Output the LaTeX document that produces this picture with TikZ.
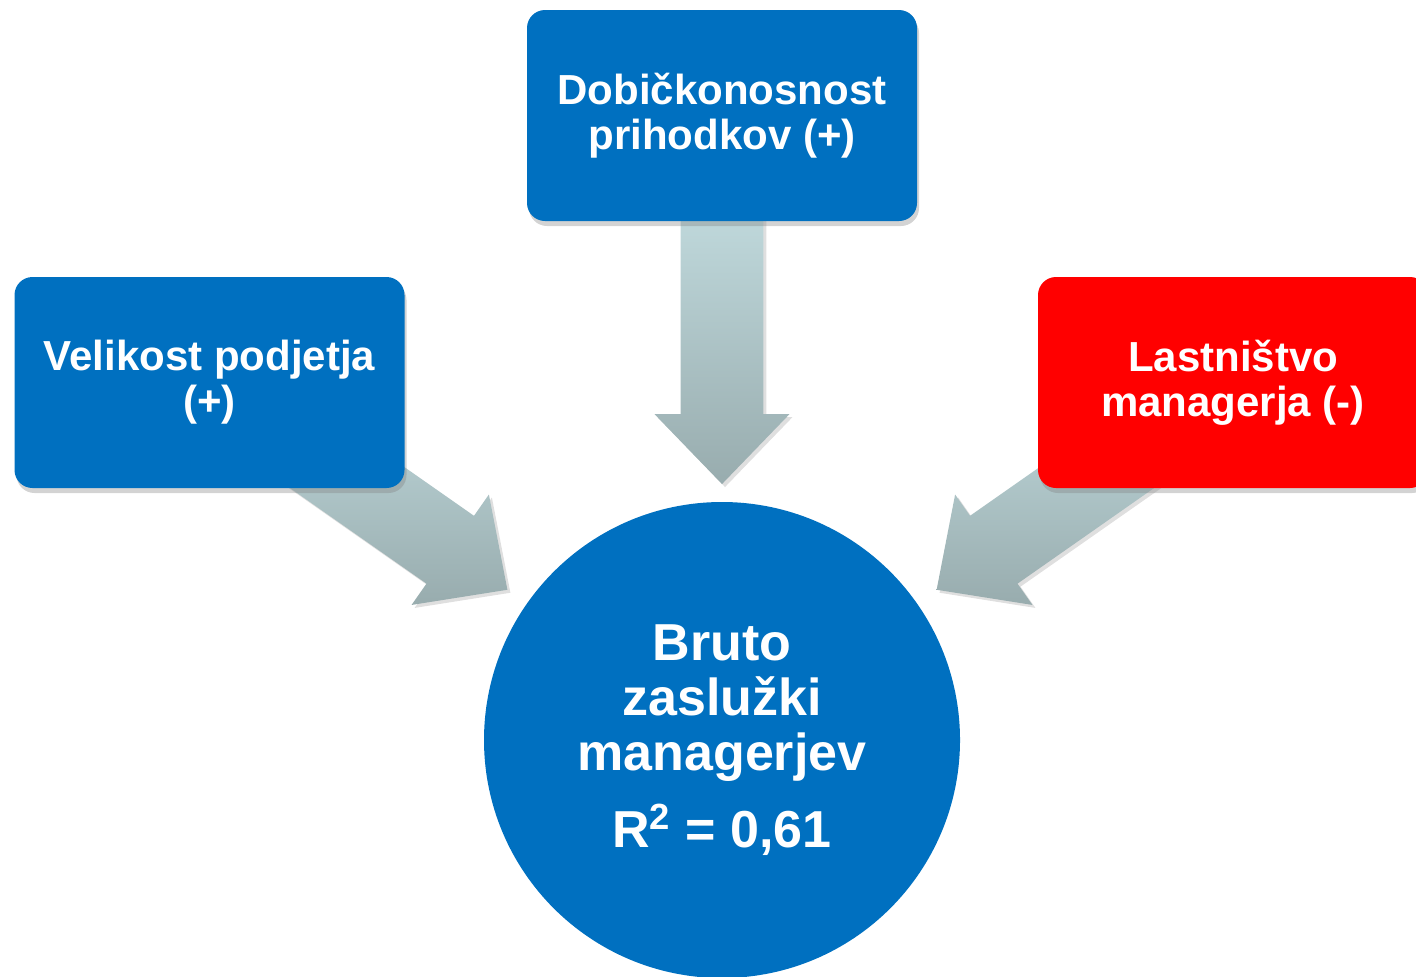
\documentclass[tikz,border=0pt]{standalone}
\usepackage{fontspec}
\setmainfont{Liberation Sans}
\usetikzlibrary{positioning,calc,shapes.arrows,shadows}
\definecolor{boxblue}{HTML}{0070C0}
\definecolor{boxred}{HTML}{FF0000}
\definecolor{arrlight}{HTML}{BFD8DB}
\definecolor{arrdark}{HTML}{98ACAE}

\begin{document}
\begin{tikzpicture}[x=0.5pt,y=-0.5pt,
box/.style={rectangle,rounded corners=9pt,fill=boxblue,text=white,
    minimum width=195pt,minimum height=105.5pt,align=center,
    font=\bfseries\fontsize{21}{22.5}\selectfont,
    drop shadow={shadow xshift=1pt,shadow yshift=-2.5pt,opacity=0.35}},
fat/.style={single arrow,anchor=tip,top color=arrlight,bottom color=arrdark,
    minimum height=#1,minimum width=67pt,single arrow head extend=13pt,
    single arrow tip angle=88,inner xsep=0pt,inner ysep=20.5pt,
    drop shadow={shadow xshift=1.5pt,shadow yshift=-1.5pt,opacity=0.25}}]
\useasboundingbox (0,0) rectangle (1416,976);

\node (bruto) [circle,fill=boxblue,text=white,minimum size=238pt,inner sep=0pt,
    align=center,font=\bfseries\fontsize{26}{27.5}\selectfont]
    at (722,740) {Bruto\\zaslužki\\managerjev\\[11pt]R\textsuperscript{2} = 0,61};

% tips of the three block arrows
\coordinate (tipT) at ([yshift=8.5pt]bruto.north);
\coordinate (tipL) at ($(bruto.145)!-11.5pt!(bruto.center)$);
\coordinate (tipR) at ($(bruto.35)!-11.5pt!(bruto.center)$);

\node (arrT) [fat=135pt,rotate=-90] at (tipT) {};
\node (arrL) [fat=145pt,rotate=-35] at (tipL) {};
\node (arrR) [fat=145pt,rotate=-145] at (tipR) {};

\node (dobic) [box] at (722,115.5) {Dobičkonosnost\\prihodkov (+)};
\node (velik) [box] at (209.5,382.5) {Velikost podjetja\\(+)};
\node (lastn) [box,fill=boxred] at (1233,382.5) {Lastništvo\\managerja (-)};
\end{tikzpicture}
\end{document}
